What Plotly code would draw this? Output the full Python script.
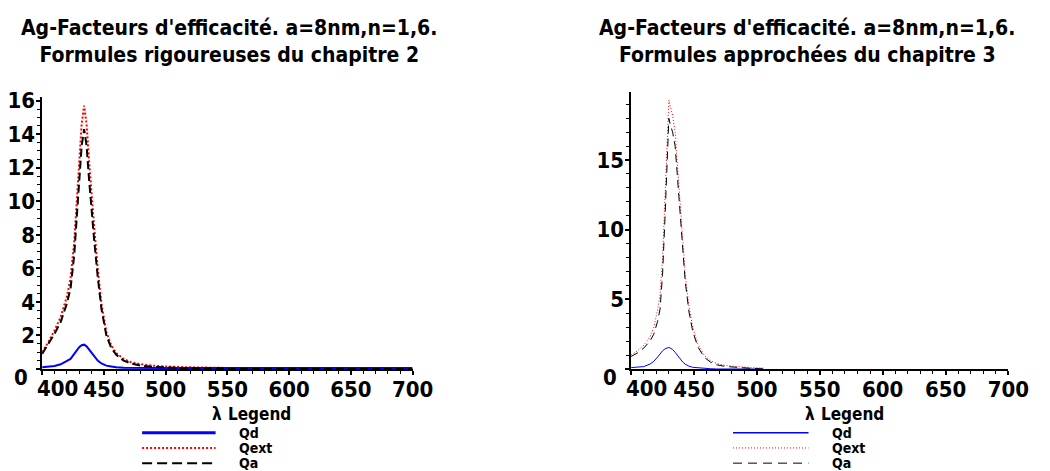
import plotly.graph_objects as go

W, H = 1050, 471

# ---- data: efficiency factors of an Ag sphere (a = 8 nm, n = 1.6) ----
# chapter 2, rigorous formulas
wl_rig = [400, 405, 410, 415, 420, 423, 426, 428, 430, 432, 434, 436, 438, 440,
          442, 445, 448, 452, 456, 460, 466, 472, 480, 490, 500, 520, 550, 600, 650, 700]
qext_rig = [1.0, 1.6, 2.3, 3.1, 4.3, 5.4, 7.6, 10.0, 12.6, 14.6, 15.7, 14.6, 12.4, 10.2,
            8.6, 6.0, 3.9, 2.2, 1.4, 0.95, 0.6, 0.4, 0.28, 0.2, 0.15, 0.1, 0.06, 0.05, 0.05, 0.05]
qd_rig = [0.1, 0.12, 0.18, 0.28, 0.45, 0.6, 0.9, 1.1, 1.3, 1.42, 1.45, 1.35, 1.15, 0.95,
          0.78, 0.5, 0.33, 0.2, 0.15, 0.1, 0.08, 0.07, 0.07, 0.06, 0.06, 0.06, 0.06, 0.06, 0.06, 0.06]
qa_rig = [0.9, 1.5, 2.1, 2.8, 3.9, 4.8, 6.8, 9.0, 11.4, 13.3, 14.3, 13.3, 11.3, 9.3,
          7.8, 5.5, 3.6, 2.0, 1.25, 0.85, 0.5, 0.33, 0.2, 0.13, 0.09, 0.04, 0.02, 0.01, 0.0, 0.0]

# chapter 3, approximate formulas
wl_app = [400, 405, 410, 415, 418, 421, 423, 425, 427, 429, 430, 431, 433, 435, 437,
          439, 441, 443, 446, 449, 453, 458, 463, 468, 475, 485, 495, 505]
qext_app = [1.0, 1.3, 1.7, 2.3, 3.0, 4.2, 5.3, 8.0, 12.5, 17.0, 19.3, 18.9, 18.2, 17.0, 14.5,
            11.5, 8.8, 6.8, 4.5, 3.0, 1.8, 1.0, 0.6, 0.4, 0.25, 0.15, 0.1, 0.08]
qd_app = [0.1, 0.12, 0.17, 0.35, 0.55, 0.85, 1.1, 1.3, 1.45, 1.55, 1.55, 1.5, 1.4, 1.2, 0.95,
          0.7, 0.5, 0.35, 0.2, 0.12, 0.08, 0.05, 0.02, 0.0, 0.0, 0.0, 0.0, 0.0]
qa_app = [0.9, 1.15, 1.5, 2.0, 2.5, 3.4, 4.3, 6.8, 11.0, 15.5, 18.0, 17.6, 17.0, 16.0, 13.6,
          10.8, 8.2, 6.3, 4.1, 2.7, 1.6, 0.85, 0.5, 0.3, 0.18, 0.1, 0.05, 0.0]

series_names = ["Qd", "Qext", "Qa"]
x_ticks = [400, 450, 500, 550, 600, 650, 700]
x_tick_text = ["400", "450", "500", "550", "600", "650", "700"]
y_ticks_rig = [0, 2, 4, 6, 8, 10, 12, 14, 16]
y_ticks_app = [0, 5, 10, 15]

titles = [
    "Ag-Facteurs d'efficacité. a=8nm,n=1,6.<br>Formules rigoureuses du chapitre 2",
    "Ag-Facteurs d'efficacité. a=8nm,n=1,6.<br>Formules approchées du chapitre 3",
]

FONT = "Liberation Sans Narrow, Arial Narrow, DejaVu Sans Condensed, sans-serif"


def px_x(p):
    return p / W


def px_y(p):
    return 1 - p / H


# panel geometry (pixels)
panels = [
    dict(x0=43, x1=421, y0=367, y1=90, yr=[0, 16.2], ticks=y_ticks_rig, minor=0.5,
         wl=wl_rig, qd=qd_rig, qext=qext_rig, qa=qa_rig, lw=2,
         dot="2px,2px", dash="8px,4px", title_x=234,
         leg_x0=145, leg_x1=220, leg_lab=243, legend_x=231),
    dict(x0=644, x1=1029, y0=367, y1=85, yr=[0, 19.86], ticks=y_ticks_app, minor=1,
         wl=wl_app, qd=qd_app, qext=qext_app, qa=qa_app, lw=1,
         dot="1px,2px", dash="8px,5px", title_x=823,
         leg_x0=748, leg_x1=825, leg_lab=848, legend_x=836),
]

fig = go.Figure()
annotations = []
shapes = []
tickfont = dict(family=FONT, size=22, color="black", weight="bold")
legfont = dict(family=FONT, size=14, color="black", weight="bold")
headfont = dict(family=FONT, size=17, color="black", weight="bold")

for i, p in enumerate(panels, start=1):
    xa = "x" if i == 1 else f"x{i}"
    ya = "y" if i == 1 else f"y{i}"
    # draw order: extinction, diffusion, absorption on top
    fig.add_trace(go.Scatter(x=p["wl"], y=p["qext"], mode="lines", name="Qext",
                             line=dict(color="#ff0000", width=p["lw"], dash=p["dot"]),
                             xaxis=xa, yaxis=ya, showlegend=False))
    fig.add_trace(go.Scatter(x=p["wl"], y=p["qd"], mode="lines", name="Qd",
                             line=dict(color="#0000ff", width=p["lw"]),
                             xaxis=xa, yaxis=ya, showlegend=False))
    fig.add_trace(go.Scatter(x=p["wl"], y=p["qa"], mode="lines", name="Qa",
                             line=dict(color="#000000", width=p["lw"], dash=p["dash"]),
                             xaxis=xa, yaxis=ya, showlegend=False))

    xkey = "xaxis" if i == 1 else f"xaxis{i}"
    ykey = "yaxis" if i == 1 else f"yaxis{i}"
    fig.update_layout({
        xkey: dict(domain=[px_x(p["x0"]), px_x(p["x1"])], range=[400, 700],
                   anchor=ya, showgrid=False, zeroline=False,
                   showline=True, linecolor="black", linewidth=1.5,
                   ticks="outside", ticklen=4, tickwidth=1.5, tickcolor="black",
                   tickvals=x_ticks, ticktext=[""] + x_tick_text[1:],
                   tickfont=tickfont, ticklabelstandoff=-4,
                   minor=dict(dtick=10, ticks="outside", ticklen=3, tickcolor="black", tickwidth=1),
                   fixedrange=True),
        ykey: dict(domain=[px_y(p["y0"]), px_y(p["y1"])], range=p["yr"],
                   anchor=xa, showgrid=False, zeroline=False,
                   showline=True, linecolor="black", linewidth=1.5,
                   ticks="outside", ticklen=4, tickwidth=1.5, tickcolor="black",
                   tickvals=p["ticks"], ticktext=[""] + [str(t) for t in p["ticks"][1:]],
                   tickfont=tickfont, ticklabelstandoff=-3,
                   minor=dict(dtick=p["minor"], ticks="outside", ticklen=3, tickcolor="black", tickwidth=1),
                   fixedrange=True),
    })

    # first x label and the zero label sit off the axis corner
    annotations.append(dict(x=px_x(p["x0"] + 16), y=px_y(387), xref="paper", yref="paper",
                            text=x_tick_text[0], showarrow=False, font=tickfont,
                            xanchor="center", yanchor="middle"))
    annotations.append(dict(x=px_x(p["x0"] - 12), y=px_y(376), xref="paper", yref="paper",
                            text=str(p["ticks"][0]), showarrow=False, font=tickfont,
                            xanchor="right", yanchor="middle"))

    # two-line panel title
    annotations.append(dict(x=px_x(p["title_x"]), y=px_y(33), xref="paper", yref="paper",
                            text=titles[i - 1], showarrow=False,
                            font=dict(family=FONT, size=21, color="black", weight="bold"),
                            xanchor="center", yanchor="middle"))

    # axis label and legend heading
    annotations.append(dict(x=px_x(p["legend_x"] - 3), y=px_y(413), xref="paper", yref="paper",
                            text="λ", showarrow=False, font=headfont, borderpad=0,
                            xanchor="right", yanchor="middle"))
    annotations.append(dict(x=px_x(p["legend_x"] + 1), y=px_y(413), xref="paper", yref="paper",
                            text="Legend", showarrow=False, font=headfont, borderpad=0,
                            xanchor="left", yanchor="middle"))

    # legend entries
    styles = [
        dict(color="#0000ff", width=3 if p["lw"] > 1 else 1.5, dash="solid"),
        dict(color="#ff0000", width=p["lw"], dash=p["dot"]),
        dict(color="#000000", width=p["lw"], dash="10px,5px" if p["lw"] > 1 else "9px,6px"),
    ]
    for k, (name, st) in enumerate(zip(series_names, styles)):
        yy = 432 + 15.5 * k
        shapes.append(dict(type="line", xref="paper", yref="paper",
                           x0=px_x(p["leg_x0"]), x1=px_x(p["leg_x1"]),
                           y0=px_y(yy), y1=px_y(yy), line=st))
        annotations.append(dict(x=px_x(p["leg_lab"]), y=px_y(yy), xref="paper", yref="paper",
                                text=name, showarrow=False, font=legfont, borderpad=0,
                                xanchor="left", yanchor="middle"))

fig.update_layout(
    width=W, height=H,
    margin=dict(l=0, r=0, t=0, b=0),
    paper_bgcolor="white", plot_bgcolor="white",
    showlegend=False,
    annotations=annotations,
    shapes=shapes,
)

fig.write_html("out.html")
